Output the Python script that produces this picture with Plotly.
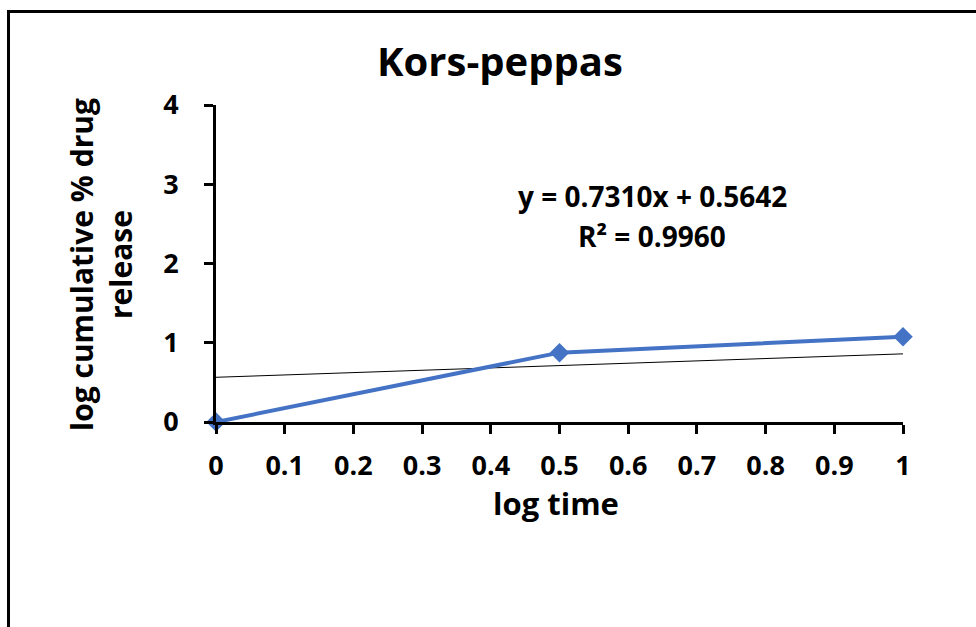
import plotly.graph_objects as go

# Korsmeyer-Peppas release data (log scales)
log_time = [0, 0.5, 1]
log_release = [0, 0.875, 1.075]

# Fitted trendline as plotted
trend_x = [0, 1]
trend_y = [0.5642, 0.86]

equation_text = "y = 0.7310x + 0.5642"
r2_text = "R² = 0.9960"

x_ticks = [0, 0.1, 0.2, 0.3, 0.4, 0.5, 0.6, 0.7, 0.8, 0.9, 1]
x_tick_labels = ["0", "0.1", "0.2", "0.3", "0.4", "0.5", "0.6", "0.7", "0.8", "0.9", "1"]
y_ticks = [0, 1, 2, 3, 4]
y_tick_labels = ["0", "1", "2", "3", "4"]

FONT = "Open Sans"
W, H = 976, 627
L, R, T, B = 216, 73, 105, 205
pw, ph = W - L - R, H - T - B


def px_to_paper_x(px):
    return (px - L) / pw


def px_to_paper_y(py):
    return (H - B - py) / ph


fig = go.Figure()

fig.add_trace(go.Scatter(
    x=trend_x, y=trend_y, mode="lines",
    line=dict(color="black", width=1),
    hoverinfo="skip", showlegend=False, cliponaxis=False,
))

fig.add_trace(go.Scatter(
    x=log_time, y=log_release, mode="lines+markers",
    line=dict(color="#4472C4", width=4),
    marker=dict(symbol="diamond", size=15, color="#4472C4"),
    showlegend=False, cliponaxis=False,
))

axis_font = dict(family=FONT, size=27, color="black", weight="bold")

fig.update_xaxes(
    range=[0, 1], tickvals=x_ticks, ticktext=x_tick_labels,
    showline=True, linecolor="black", linewidth=3,
    ticks="outside", ticklen=9, tickwidth=3, tickcolor="black",
    showgrid=False, zeroline=False, tickfont=axis_font,
    ticklabelstandoff=9,
)
fig.update_yaxes(
    range=[0, 4], tickvals=y_ticks, ticktext=y_tick_labels,
    showline=True, linecolor="black", linewidth=3,
    ticks="outside", ticklen=9, tickwidth=3, tickcolor="black",
    showgrid=False, zeroline=False, tickfont=axis_font,
    ticklabelstandoff=20,
)

annotations = [
    dict(text="Kors-peppas", x=px_to_paper_x(500), y=px_to_paper_y(60),
         font=dict(family=FONT, size=40, color="black", weight="bold")),
    dict(text="log time", x=px_to_paper_x(556), y=px_to_paper_y(503),
         font=dict(family=FONT, size=31, color="black", weight="bold")),
    dict(text="log cumulative % drug<br>release", x=px_to_paper_x(101), y=px_to_paper_y(264),
         textangle=-90,
         font=dict(family=FONT, size=30, color="black", weight="bold")),
    dict(text=equation_text, x=px_to_paper_x(652), y=px_to_paper_y(196),
         font=dict(family=FONT, size=28, color="black", weight="bold")),
    dict(text=r2_text, x=px_to_paper_x(652), y=px_to_paper_y(236),
         font=dict(family=FONT, size=28, color="black", weight="bold")),
]
for a in annotations:
    a.update(xref="paper", yref="paper", showarrow=False,
             xanchor="center", yanchor="middle")

fig.update_layout(
    width=W, height=H,
    margin=dict(l=L, r=R, t=T, b=B),
    paper_bgcolor="white", plot_bgcolor="white",
    annotations=annotations,
    shapes=[dict(
        type="rect", xref="paper", yref="paper",
        x0=px_to_paper_x(8.5), x1=px_to_paper_x(990),
        y0=px_to_paper_y(640), y1=px_to_paper_y(11.5),
        line=dict(color="black", width=3), layer="below",
    )],
)

fig.write_html("out.html")
